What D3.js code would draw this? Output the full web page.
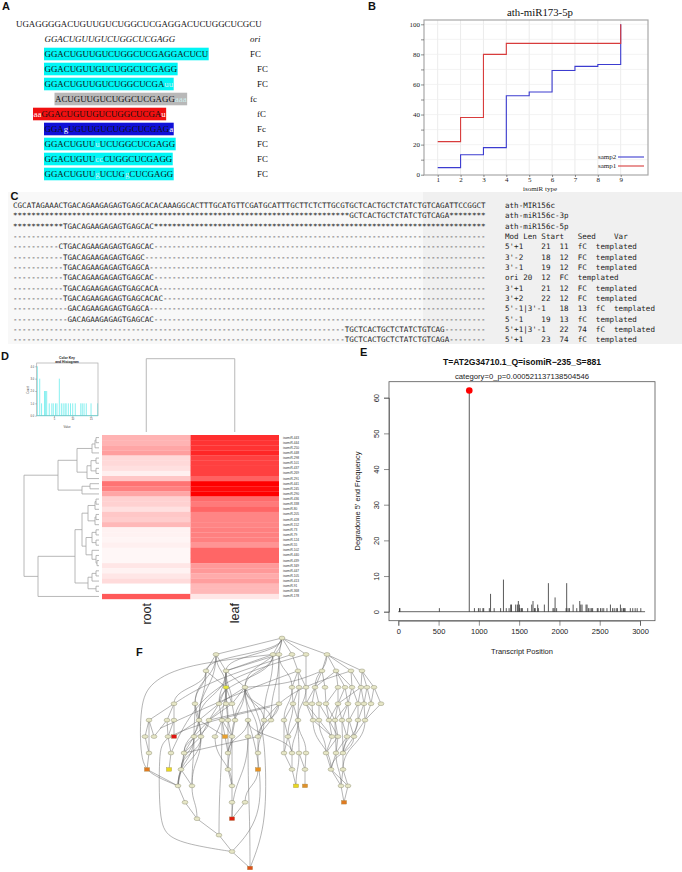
<!DOCTYPE html>
<html><head><meta charset="utf-8">
<script src="https://cdn.jsdelivr.net/npm/d3@7"></script>
<style>
html,body{margin:0;padding:0;background:#fff}
svg{display:block}
.sans{font-family:"Liberation Sans",Arial,sans-serif}
.serif{font-family:"Liberation Serif","Times New Roman",serif}
.mono{font-family:"DejaVu Sans Mono",monospace}
</style></head><body>
<svg id="c" width="682" height="872" viewBox="0 0 682 872"></svg>
<script>
// ---------- Panel A ----------
const alignRows = [
  {o:"t",seg:[["UGAGGGGACUGUUGUCUGGCUCGAGGACUCUGGCUCGCU",0]]},
  {o:"i",tag:"ori",seg:[["GGACUGUUGUCUGGCUCGAGG",0]]},
  {o:"c",tag:"FC",seg:[["GGACUGUUGUCUGGCUCGAGGACUCU",0]]},
  {o:"c",tag:"FC",ind:1,seg:[["GGACUGUUGUCUGGCUCGAGG",0]]},
  {o:"c",tag:"FC",ind:1,seg:[["GGACUGUUGUCUGGCUCGA",0],["uu",1]]},
  {o:"g",tag:"fc",seg:[["ACUGUUGUCUGGCUCGAGG",0],["aaa",1]]},
  {o:"r",tag:"fC",ind:1,seg:[["aa",2],["GGACUGUUGUCUGGCUCGA",0],["u",2]]},
  {o:"b",tag:"Fc",ind:1,seg:[["GGA",0],["g",2],["UGUUGUCUGGCUCGAG",0],["a",2]]},
  {o:"c",tag:"FC",ind:1,seg:[["GGACUGUU",0],["u",1],["UCUGGCUCGAGG",0]]},
  {o:"c",tag:"FC",ind:1,seg:[["GGACUGUU",0],["cc",1],["CUGGCUCGAGG",0]]},
  {o:"c",tag:"FC",ind:1,seg:[["GGACUGUU",0],["g",1],["UCUG",0],["g",1],["CUCGAGG",0]]}
];
// ---------- Panel B ----------
const isoTypes = [1,2,3,4,5,6,7,8,9];
const samp1 = [22,38,80,87.3,87.3,87.3,87.3,87.3,100];
const samp2 = [4.7,13.3,18,52.5,55,69.3,72,73.3,100];
// ---------- Panel C ----------
const refSeq = "CGCATAGAAACTGACAGAAGAGAGTGAGCACACAAAGGCACTTTGCATGTTCGATGCATTTGCTTCTCTTGCGTGCTCACTGCTCTATCTGTCAGATTCCGGCT";
const seqSubs = [null,"GCTCACTGCTCTATCTGTCAGA","TGACAGAAGAGAGTGAGCAC","","CTGACAGAAGAGAGTGAGCAC","TGACAGAAGAGAGTGAGC","TGACAGAAGAGAGTGAGCA","TGACAGAAGAGAGTGAGCAC","TGACAGAAGAGAGTGAGCACA","TGACAGAAGAGAGTGAGCACAC","GACAGAAGAGAGTGAGCA","GACAGAAGAGAGTGAGCAC","TGCTCACTGCTCTATCTGTCAG","TGCTCACTGCTCTATCTGTCAGA"];
const seqFill = [" ","*","*","-","-","-","-","-","-","-","-","-","-","-"];
const seqNotes = ["ath-MIR156c","ath-miR156c-3p","ath-miR156c-5p","Mod Len Start   Seed    Var","5'+1    21  11  fC  templated","3'-2    18  12  FC  templated","3'-1    19  12  FC  templated","ori 20  12  FC  templated","3'+1    21  12  FC  templated","3'+2    22  12  FC  templated","5'-1|3'-1   18  13  fC  templated","5'-1    19  13  fC  templated","5'+1|3'-1   22  74  fC  templated","5'+1    23  74  fC  templated"];
// ---------- Panel D ----------
const heatIds = [443,444,250,448,298,101,437,269,291,441,245,290,436,338,80,205,428,152,73,79,124,55,102,440,439,349,447,105,413,91,368,178];
const rootVals = [.3,.3,.35,.38,.15,.15,.12,.06,.22,.55,.5,.35,.18,.18,.12,.22,.2,.28,.05,.05,.04,.06,.03,.03,.03,.1,.05,.1,.14,0,0,.65];
const leafVals = [.82,.8,.8,.85,.75,.75,.75,.75,.62,1,.97,1,.58,.52,.6,.48,.48,.48,.5,.5,.5,.42,.6,.6,.6,.4,.4,.33,.38,.28,.28,.1];
const heatCols = ["root","leaf"];
// dendrogram: [height, left, right], leaves are row numbers
const rowTree = [75,
  [41,
    [22,
      [7,[4,[3,0,1],2],3],
      [12,[8,[3,4,5],[3,6,7]],8]],
    [17,[9,9,10],11]],
  [61,
    [24,
      [17,
        [11,[4,[3,12,13],14],[4,[3,15,16],17]],
        [13,[7,[3,18,19],[3,20,21]],[7,22,[3,23,[2,24,25]]]]],
      [11,[7,[3,26,27],28],[3,29,30]]],
    31]];
const histVals = [.45,1.1,1.6,2.4,2.7,3,3.7,4.4,4.8,5.4,5.8,6.45,7,7.5,8,8.3,8.9,9.5,10.1,10.8,12.3,12.7,13.2,13.8,15.1,16.9];
const histCounts = [4,3,1,2,2,2,1,1,1,1,1,3,1,1,1,1,1,1,1,1,1,1,1,1,1,1];
// ---------- Panel E ----------
const sitePos = [15,20,510,881,945,995,1015,1050,1060,1130,1145,1190,1270,1305,1340,1375,1395,1405,1457,1478,1490,1503,1510,1530,1540,1606,1656,1672,1690,1700,1730,1738,1813,1863,1920,1933,1946,1965,2083,2090,2107,2124,2170,2215,2252,2265,2281,2330,2343,2360,2380,2400,2412,2470,2480,2510,2530,2550,2590,2633,2660,2680,2705,2720,2757,2775,2795,2805,2815,2880,2910,2940,2965,3010];
const siteFreq = [1,1,1,62,1,1,1,1,1,1,5,1,1,9,1,1,2,2,2,2,3,2,1,1,1,1,2,3,1,1,2,1,2,8,1,1,4,1,1,8,1,1,2,1,3,2,2,2,2,1,1,1,1,1,1,1,1,1,1,2,1,1,1,1,2,1,1,1,1,1,1,1,1,1];
const peak = {pos:881,freq:62};
// ---------- Panel F ----------
const levelNodes = [
 [282],
 [216,273,279,292,306,327],
 [206,226,298,322,336,351,362],
 [226,245,292,299,306,315,325,338,345,352,361,367,374],
 [174,195,219,226,232,279,293,306,312,319,326,338,348,358,364,371,381],
 [149,167,174,199,209,222,228,235,248,264,271,284,298,313,319,329,335,342,349,358,365],
 [145,154,168,174,194,201,215,225,232,248,258,288,332,338,347,354],
 [149,171,184,228,258,284,292,299,306,326,336,343],
 [147,169,181,228,258,292,305,331,343],
 [178,192,232,296,305,341,348],
 [185,232,245,344],
 [197,232],
 [219],
 [232],
 [250]
];
const termNodes = {"3:226":"#e6e63a","6:174":"#e01414","6:225":"#e8a030","8:147":"#e07a20","8:169":"#e8d820","8:258":"#e89020","9:296":"#e8d820","9:305":"#e0902a","10:344":"#e07a20","11:232":"#e01e10","14:250":"#e0501a"};
const edgeSpec = [
"0:282>1:216,1:273,1:279,1:292,1:306,1:327,2:226,2:206,3:245",
"1:216>2:206,2:226,3:226,4:195,5:199",
"1:273>2:226,3:245,4:219,5:264",
"1:279>2:226,3:292,4:279,5:271",
"1:292>2:298",
"1:306>3:306",
"1:327>2:322,2:336,2:351,2:362,3:315",
"2:206>3:226,4:174,4:195,5:199",
"2:226>3:226,3:245,4:219,4:226,4:232,5:199",
"2:298>3:292,3:299,3:306",
"2:322>3:315,3:325",
"2:336>3:338,3:345,3:352,3:315",
"2:351>3:352,3:361",
"2:362>3:361,3:367,3:374",
"3:226>4:219,4:226,4:232,5:222,5:228",
"3:245>4:219,4:232,5:235,5:248,5:264,6:232,6:258,5:271",
"3:292>4:293,5:284",
"3:299>4:293,5:298",
"3:306>4:306,5:298",
"3:315>4:306,4:312,4:319",
"3:325>4:326",
"3:338>4:338,4:326",
"3:345>4:338,4:348",
"3:352>4:348,4:358",
"3:361>4:358,4:364,4:338",
"3:367>4:364,4:371",
"3:374>4:371,4:381",
"4:174>5:149,5:167,5:174",
"4:195>5:199,6:194,6:201",
"4:219>5:222,5:199,5:209",
"4:226>5:228,5:209",
"4:232>5:235,5:209",
"4:279>5:264,5:271,6:258,5:209",
"4:293>5:284,5:298,6:288",
"4:306>5:313,5:319",
"4:312>5:313",
"4:319>5:329,5:319",
"4:326>5:329,5:335",
"4:338>5:329,5:335,5:342",
"4:348>5:342,5:349,5:335",
"4:358>5:358,5:349",
"4:364>5:358,5:365",
"4:371>5:365",
"4:381>5:365",
"5:149>6:145,6:154,7:149",
"5:167>6:168,6:154",
"5:174>6:174,6:168",
"5:199>6:194,6:201,6:174,7:184,6:225",
"5:209>6:194,6:201,7:184",
"5:222>6:215,6:225,6:232,12:219",
"5:228>6:232,7:228",
"5:235>6:232",
"5:248>6:248,7:228,7:292",
"5:264>6:258,7:258",
"5:271>6:258",
"5:284>6:288,7:284",
"5:298>6:288,7:292,7:306,7:299",
"5:313>6:332,8:331",
"5:319>6:332,7:326",
"5:329>6:332,6:338",
"5:335>6:338,7:336",
"5:342>6:347,7:343",
"5:349>6:347,6:354",
"5:358>6:354,7:343",
"5:365>6:354,8:343",
"6:145>7:149",
"6:168>7:171",
"6:194>8:181,9:178,9:192,7:184",
"6:201>8:181,9:192,9:178,7:184",
"6:215>9:232",
"6:225>7:228",
"6:232>7:228,8:228,9:232",
"6:248>11:232,14:250",
"6:258>7:258,7:184",
"6:288>7:284,7:292",
"6:332>7:326",
"6:338>7:336,7:326",
"6:347>7:336,7:343",
"6:354>7:343,8:331",
"7:149>8:147",
"7:171>8:169",
"7:184>8:181,9:178",
"7:228>8:228",
"7:258>8:258",
"7:284>8:292",
"7:292>8:292",
"7:299>9:296,8:305",
"7:306>8:305",
"7:326>8:331",
"7:336>8:331,9:341",
"7:343>8:343",
"8:147>9:178",
"8:181>9:178,9:192",
"8:228>9:232",
"8:258>10:245",
"8:292>9:296",
"8:305>9:305",
"8:331>9:341,9:348",
"8:343>9:341,9:348",
"9:178>10:185",
"9:192>11:197",
"9:232>10:232",
"9:341>10:344",
"9:348>10:344",
"10:185>11:197",
"10:232>11:232",
"10:245>11:232",
"11:197>12:219",
"12:219>13:232",
"13:232>14:250"
];
// long sweeping edges as [layout x, level] guide points
const sweepEdges = [
 [[273,1],[185,1.6],[150,2.7],[140,4],[140,7.5],[150,8.3],[178,9]],
 [[270,4.2],[213,5],[163,6],[159,7],[159,11],[167,12.2],[200,12.7],[232,13]],
 [[245,3],[262,5],[266,7.5],[266,11.5],[250,14]],
 [[248,5],[260,7.5],[262,11],[232,13]],
 [[292,1],[210,2.6],[174,4]],
 [[306,1],[226,2.4],[190,4.5],[171,7]],
 [[298,2],[240,3.3],[160,5.5]],
 [[351,2],[300,3],[279,4]],
 [[322,2],[290,2.8],[245,3]]
];

const svg = d3.select("#c");
svg.append("rect").attr("width",682).attr("height",872).attr("fill","#fff");

function panelLabel(t,x,y){ svg.append("text").attr("class","sans").attr("x",x).attr("y",y).attr("font-size",11).attr("font-weight","bold").attr("fill","#111").text(t); }

// ===== A =====
(function(){
  const g = svg.append("g").attr("class","serif");
  const rowY = d3.scaleLinear().domain([0,10]).range([24,174]);
  const startX = {t:16,i:44.5,c:44.5,g:55,r:33.5,b:44.5};
  const bg = {c:"#00f5f5",g:"#b8b8b8",r:"#f01010",b:"#1010d8"};
  alignRows.forEach((r,i)=>{
    const y = rowY(i);
    const rect = g.append("rect");
    const t = g.append("text").attr("x",startX[r.o]).attr("y",y+3.1).attr("font-size",8.9)
       .attr("font-style",r.o==="i"?"italic":"normal").attr("fill","#111");
    r.seg.forEach(s=>{
      t.append("tspan").attr("fill",s[1]===0?"#111":(s[1]===1?"#cfeeee":"#fff")).text(s[0]);
    });
    if(bg[r.o]){
      const len = t.node().getComputedTextLength();
      rect.attr("x",startX[r.o]-.5).attr("y",y-6.3).attr("width",len+1).attr("height",12.6).attr("fill",bg[r.o]);
    } else rect.remove();
    if(r.tag) g.append("text").attr("x",r.ind?257:250).attr("y",y+3.1).attr("font-size",8.9)
       .attr("font-style",r.o==="i"?"italic":"normal").attr("fill","#111").text(r.tag);
  });
})();

// ===== B =====
(function(){
  const box = {l:424,r:648,t:20,b:175};
  const x = d3.scaleLinear().domain([1,9]).range([437.7,620.7]);
  const y = d3.scaleLinear().domain([0,100]).range([174.7,24.3]);
  const g = svg.append("g").attr("class","serif");
  g.append("g").selectAll("line").data(isoTypes).join("line")
    .attr("x1",d=>x(d)).attr("x2",d=>x(d)).attr("y1",box.t).attr("y2",box.b).attr("stroke","#e6e6e6").attr("stroke-width",.8);
  g.append("g").selectAll("line").data(d3.range(10,101,10)).join("line")
    .attr("y1",d=>y(d)).attr("y2",d=>y(d)).attr("x1",box.l).attr("x2",box.r).attr("stroke","#efefef").attr("stroke-width",.7);
  g.append("rect").attr("x",box.l).attr("y",box.t).attr("width",box.r-box.l).attr("height",box.b-box.t).attr("fill","none").attr("stroke","#a8a8a8").attr("stroke-width",1.2);
  const ax = g.append("g").attr("transform",`translate(0,${box.b})`).call(d3.axisBottom(x).tickValues(isoTypes).tickSize(2).tickPadding(0));
  const ay = g.append("g").attr("transform",`translate(${box.l},0)`).call(d3.axisLeft(y).tickValues(d3.range(0,101,10)).tickFormat(d=>d%20?"":d).tickSize(3).tickPadding(1));
  [ax,ay].forEach(a=>{a.select(".domain").remove();a.selectAll("text").attr("font-size",7).attr("font-family","Liberation Serif").attr("fill","#222");a.selectAll("line").attr("stroke","#444").attr("stroke-width",.6);});
  const stepAfter = d3.line().x(d=>x(d[0])).y(d=>y(d[1])).curve(d3.curveStepAfter);
  g.append("path").attr("d",stepAfter(isoTypes.map((d,i)=>[d,samp2[i]]))).attr("fill","none").attr("stroke","#3c3cd0").attr("stroke-width",1.1);
  g.append("path").attr("d",stepAfter(isoTypes.map((d,i)=>[d,samp1[i]]))).attr("fill","none").attr("stroke","#d83c3c").attr("stroke-width",1.1);
  g.append("text").attr("x",540).attr("y",15.5).attr("text-anchor","middle").attr("font-size",10.8).attr("fill","#111").text("ath-miR173-5p");
  g.append("text").attr("x",540).attr("y",190.5).attr("text-anchor","middle").attr("font-size",7).attr("fill","#222").text("isomiR type");
  [["samp2","#3c3cd0",157],["samp1","#d83c3c",166]].forEach(l=>{
    g.append("text").attr("x",598).attr("y",l[2]+1.5).attr("font-size",7).attr("fill","#222").text(l[0]);
    g.append("line").attr("x1",618).attr("x2",644).attr("y1",l[2]).attr("y2",l[2]).attr("stroke",l[1]).attr("stroke-width",1.1);
  });
})();

// ===== C =====
(function(){
  const g = svg.append("g").attr("class","mono");
  g.append("rect").attr("x",8).attr("y",192).attr("width",415).attr("height",152).attr("fill","#f8f8f8");
  g.append("rect").attr("x",423).attr("y",192).attr("width",259).attr("height",152).attr("fill","#f0f0f0");
  const rowY = d3.scaleLinear().domain([0,13]).range([205.3,339.7]);
  seqSubs.forEach((s,i)=>{
    let line;
    if(s===null) line = refSeq;
    else {
      const at = s===""?0:refSeq.indexOf(s);
      line = seqFill[i].repeat(at)+s+seqFill[i].repeat(refSeq.length-at-s.length);
    }
    g.append("text").attr("x",13).attr("y",rowY(i)+2.6).attr("font-size",7.55).attr("fill","#222").attr("xml:space","preserve").style("white-space","pre").text(line);
    g.append("text").attr("x",505).attr("y",rowY(i)+2.6).attr("font-size",7.55).attr("fill","#222").attr("xml:space","preserve").style("white-space","pre").text(seqNotes[i]);
  });
})();

// ===== D =====
(function(){
  const g = svg.append("g").attr("class","sans");
  const hx = d3.scaleBand().domain(heatCols).range([102,279]);
  const hy = d3.scaleBand().domain(d3.range(heatIds.length)).range([435,599]);
  const col = d3.scaleLinear().domain([0,1]).range(["#ffffff","#ff0000"]);
  heatCols.forEach((c,ci)=>{
    const vals = ci?leafVals:rootVals;
    g.append("g").selectAll("rect").data(vals).join("rect")
      .attr("x",hx(c)).attr("width",hx.bandwidth()).attr("y",(d,i)=>hy(i)).attr("height",hy.bandwidth()+.2).attr("fill",d=>col(d));
    g.append("text").attr("transform",`translate(${hx(c)+hx.bandwidth()/2+4.5},603) rotate(-90)`).attr("text-anchor","end").attr("font-size",12.5).attr("fill","#222").text(c);
  });
  g.append("g").selectAll("text").data(heatIds).join("text")
    .attr("x",283).attr("y",(d,i)=>hy(i)+hy.bandwidth()/2+1).attr("font-size",3.2).attr("fill","#333").text(d=>"isomiR-"+d);
  // row dendrogram
  const dx = d3.scaleLinear().domain([0,75]).range([99,24]);
  const dg = g.append("g").attr("fill","none").attr("stroke","#a6a6a6").attr("stroke-width",.8);
  const path = d3.path();
  function walk(n){
    if(typeof n==="number") return {y:hy(n)+hy.bandwidth()/2,h:0};
    const a=walk(n[1]),b=walk(n[2]);
    const X=dx(n[0]);
    path.moveTo(dx(a.h),a.y);path.lineTo(X,a.y);path.lineTo(X,b.y);path.lineTo(dx(b.h),b.y);
    return {y:(a.y+b.y)/2,h:n[0]};
  }
  walk(rowTree);
  dg.append("path").attr("d",path.toString());
  // column dendrogram
  const cx = heatCols.map(c=>hx(c)+hx.bandwidth()/2);
  dg.append("path").attr("d",d3.line()([[cx[0],432],[cx[0],358.7],[cx[1],358.7],[cx[1],432]]));
  // colour key + histogram
  const kx = d3.scaleLinear().domain([0,17]).range([35.7,98]);
  const ky = d3.scaleLinear().domain([0,4]).range([415.7,366.3]);
  g.append("g").selectAll("line").data(histVals).join("line")
    .attr("x1",d=>kx(d)).attr("x2",d=>kx(d)).attr("y1",ky(0)).attr("y2",(d,i)=>ky(histCounts[i]))
    .attr("stroke","#7ceeee").attr("stroke-width",.9);
  g.append("rect").attr("x",36.7).attr("y",363).attr("width",61.3).attr("height",52.7).attr("fill","none").attr("stroke","#aaa").attr("stroke-width",.7);
  g.append("line").attr("x1",36.7).attr("x2",98).attr("y1",415.7).attr("y2",415.7).attr("stroke","#55dada").attr("stroke-width",.7);
  const kb = g.append("g").attr("transform","translate(0,416)").call(d3.axisBottom(kx).tickValues([5,10,15]).tickSize(1.5).tickPadding(1));
  const kl = g.append("g").attr("transform","translate(36.7,0)").call(d3.axisLeft(ky).tickValues([0,1,2,3,4]).tickSize(1.5).tickPadding(1));
  [kb,kl].forEach(a=>{a.select(".domain").remove();a.selectAll("line").attr("stroke","#666").attr("stroke-width",.4);a.selectAll("text").attr("font-size",2.6).attr("font-family","Liberation Sans").attr("fill","#444");});
  g.append("text").attr("x",67).attr("y",359).attr("text-anchor","middle").attr("font-size",3.4).attr("font-weight","bold").attr("fill","#222").text("Color Key");
  g.append("text").attr("x",67).attr("y",362.6).attr("text-anchor","middle").attr("font-size",3.4).attr("font-weight","bold").attr("fill","#222").text("and Histogram");
  g.append("text").attr("x",67).attr("y",428).attr("text-anchor","middle").attr("font-size",2.8).attr("fill","#444").text("Value");
  g.append("text").attr("transform","translate(29,390) rotate(-90)").attr("text-anchor","middle").attr("font-size",2.8).attr("fill","#444").text("Count");
})();

// ===== E =====
(function(){
  const g = svg.append("g").attr("class","sans");
  const x = d3.scaleLinear().domain([0,3000]).range([398.3,640]);
  const y = d3.scaleLinear().domain([0,60]).range([611.7,397.7]);
  const box = {l:389,r:655,t:381.7,b:620.7};
  g.append("rect").attr("x",box.l).attr("y",box.t).attr("width",box.r-box.l).attr("height",box.b-box.t).attr("fill","none").attr("stroke","#555").attr("stroke-width",.8);
  g.append("line").attr("x1",x(0)).attr("x2",x(3063)).attr("y1",y(0)).attr("y2",y(0)).attr("stroke","#222").attr("stroke-width",.7);
  g.append("g").selectAll("line").data(sitePos).join("line")
    .attr("x1",d=>x(d)).attr("x2",d=>x(d)).attr("y1",y(0)).attr("y2",(d,i)=>y(siteFreq[i]))
    .attr("stroke","#222").attr("stroke-width",.75);
  g.append("circle").attr("cx",x(peak.pos)).attr("cy",y(peak.freq)).attr("r",3.3).attr("fill","#ff0000");
  const ax = g.append("g").attr("transform",`translate(0,${box.b})`).call(d3.axisBottom(x).tickValues(d3.range(0,3001,500)).tickFormat(d3.format("d")).tickSize(5).tickPadding(3));
  const ay = g.append("g").attr("transform",`translate(${box.l},0)`).call(d3.axisLeft(y).tickValues(d3.range(0,61,10)).tickSize(5).tickPadding(3));
  [ax,ay].forEach(a=>{a.select(".domain").attr("stroke","#444").attr("stroke-width",.6);a.selectAll("line").attr("stroke","#444").attr("stroke-width",.6);a.selectAll("text").attr("font-size",7.5).attr("font-family","Liberation Sans").attr("fill","#222");});
  ay.selectAll("text").attr("x",0).attr("dy",0).attr("text-anchor","middle").attr("transform","translate(-10,0) rotate(-90)");
  g.append("text").attr("x",522).attr("y",365).attr("text-anchor","middle").attr("font-size",8.6).attr("font-weight","bold").attr("fill","#111").text("T=AT2G34710.1_Q=isomiR\u2212235_S=881");
  g.append("text").attr("x",522).attr("y",379).attr("text-anchor","middle").attr("font-size",7.7).attr("fill","#222").text("category=0_p=0.000521137138504546");
  g.append("text").attr("x",522).attr("y",654).attr("text-anchor","middle").attr("font-size",7.5).attr("fill","#222").text("Transcript Position");
  g.append("text").attr("transform","translate(360,501) rotate(-90)").attr("text-anchor","middle").attr("font-size",7.5).attr("fill","#222").text("Degradome 5' end Frequency");
})();

// ===== F =====
(function(){
  const x = d3.scaleLinear().domain([136,381]).range([136,381]);
  const y = d3.scaleLinear().domain([0,14]).range([638,868]);
  const g = svg.append("g");
  const link = d3.linkVertical().x(d=>x(d[0])).y(d=>y(d[1]));
  const straight = d3.line().x(d=>x(d[0])).y(d=>y(d[1]));
  const sweep = d3.line().x(d=>x(d[0])).y(d=>y(d[1])).curve(d3.curveBasis);
  const parse = s=>{const p=s.split(":").map(Number);return [p[1],p[0]];};
  const eg = g.append("g").attr("fill","none").attr("stroke","#6a6a6a").attr("stroke-width",.5);
  edgeSpec.forEach(sp=>{
    const [a,bs]=sp.split(">");
    const A=parse(a);
    bs.split(",").forEach(b=>{
      const B=parse(b);
      const d = B[1]-A[1]===1 ? straight([A,B]) : link({source:A,target:B});
      eg.append("path").attr("d",d);
    });
  });
  sweepEdges.forEach(e=>eg.append("path").attr("d",sweep(e)));
  const nodes = levelNodes.flatMap((xs,l)=>xs.map(v=>({l,v,k:l+":"+v})));
  g.append("g").selectAll("ellipse").data(nodes.filter(n=>!termNodes[n.k]||n.k==="3:226")).join("ellipse")
    .attr("cx",d=>x(d.v)).attr("cy",d=>y(d.l)).attr("rx",2.9).attr("ry",1.9)
    .attr("fill",d=>termNodes[d.k]||"#e6e6c6").attr("stroke","#8a8a70").attr("stroke-width",.45);
  g.append("g").selectAll("rect").data(nodes.filter(n=>termNodes[n.k]&&n.k!=="3:226")).join("rect")
    .attr("x",d=>x(d.v)-2.6).attr("y",d=>y(d.l)-1.8).attr("width",5.2).attr("height",3.6)
    .attr("fill",d=>termNodes[d.k]).attr("stroke","#a08a50").attr("stroke-width",.35);
})();

panelLabel("A",2,10);panelLabel("B",368,10);panelLabel("C",10.5,199.5);panelLabel("D",1,360);panelLabel("E",360,356);panelLabel("F",136,656);
</script>
</body></html>
